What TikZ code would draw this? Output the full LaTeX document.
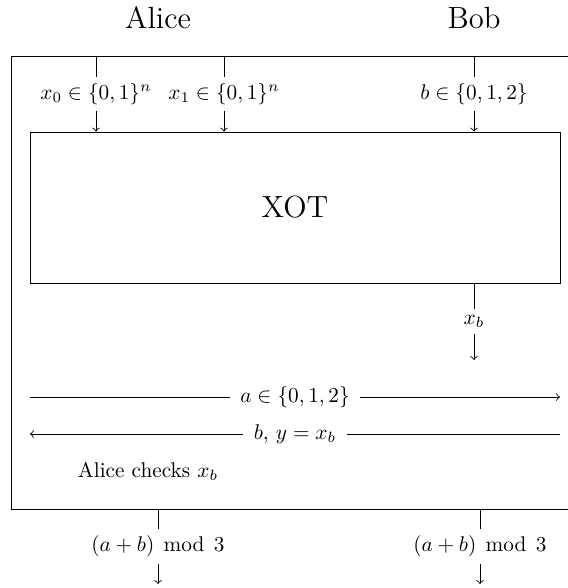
\documentclass[tikz,border=0pt]{standalone}
\usetikzlibrary{positioning}

\tikzset{
  lbl/.style={fill=white, inner xsep=5pt, inner ysep=3pt},
  party/.style={font=\Large},
  xotbox/.style={draw, font=\Large, minimum width=249.1pt, minimum height=71pt},
}

\begin{document}
\begin{tikzpicture}[x=0.47pt, y=-0.47pt]

  \def\outL{11}
  \def\outT{56}
  \def\outB{509}

  \useasboundingbox (0,0) rectangle (568,588);
  \clip (0,0) rectangle (568,588);

  % parties
  \node[party] (alice) at (158,18) {Alice};
  \node[party] (bob) at (474,18) {Bob};

  % outer box (runs off the right edge)
  \draw (\outL,\outT) rectangle (600,\outB);

  % XOT
  \node[xotbox] (xot) at (295,207.5) {XOT};

  % inputs
  \coordinate (in0) at (96,\outT);
  \coordinate (in1) at (224,\outT);
  \coordinate (inb) at (474,\outT);
  \draw[->] (in0) -- node[lbl] {$x_0 \in \{0,1\}^n$} (in0 |- xot.north);
  \draw[->] (in1) -- node[lbl] {$x_1 \in \{0,1\}^n$} (in1 |- xot.north);
  \draw[->] (inb) -- node[lbl] {$b \in \{0,1,2\}$} (inb |- xot.north);

  % output to Bob
  \coordinate (xbend) at (474,360);
  \draw[->] (xbend |- xot.south) -- node[lbl] {$x_b$} (xbend);

  % messages
  \coordinate (aL) at (30,397);
  \coordinate (aR) at (560,397);
  \coordinate (bL) at (30,434);
  \coordinate (bR) at (560,434);
  \draw[->] (aL) -- node[lbl] {$a \in \{0,1,2\}$} (aR);
  \draw[->] (bR) -- node[lbl] {$b,\, y = x_b$} (bL);

  \node (check) at (148,471) {Alice checks $x_b$};

  % final outputs
  \def\modlbl{$(a+b)\;\,\mathrm{mod}\;\,3$}
  \coordinate (outA) at (158,584);
  \coordinate (outB) at (480,584);
  \draw[->] (outA |- 0,\outB) -- node[lbl] {\modlbl} (outA);
  \draw[->] (outB |- 0,\outB) -- node[lbl] {\modlbl} (outB);

\end{tikzpicture}
\end{document}
